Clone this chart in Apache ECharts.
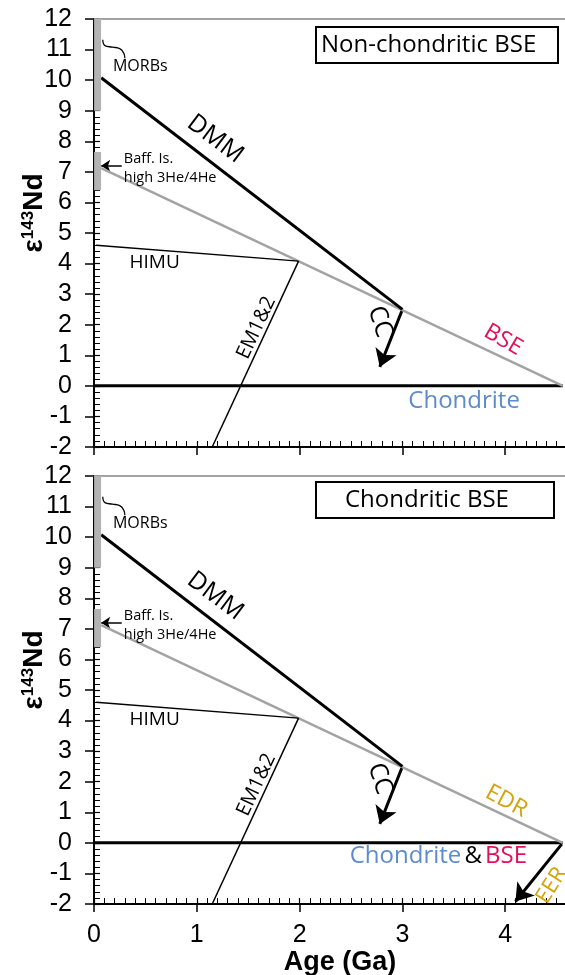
<!DOCTYPE html>
<html>
<head>
<meta charset="utf-8">
<script src="https://cdn.jsdelivr.net/npm/echarts@6/dist/echarts.min.js"></script>
<style>
html,body{margin:0;padding:0;background:#fff;}
#chart{width:565px;height:975px;}
</style>
</head>
<body>
<div id="chart"></div>
<script>
// ---- data (Age in Ga, epsilon 143Nd) ----
const xTickValues = [0, 1, 2, 3, 4];
const yTickValues = [-2, -1, 0, 1, 2, 3, 4, 5, 6, 7, 8, 9, 10, 11, 12];
const panelTitles = ['Non-chondritic BSE', 'Chondritic BSE'];
const dmmLine = [[0.07, 10.08], [3.0, 2.5]];
const bseLine = [[0.07, 7.12], [4.56, 0]];
const himuLine = [[0.02, 4.6], [1.99, 4.08]];
const emLine = [[1.99, 4.08], [1.15, -2]];
const chondriteLine = [[0, 0], [4.56, 0]];
const morbBar = [[0.035, 9], [0.035, 12]];
const baffBar = [[0.035, 6.4], [0.035, 7.65]];
const morbBrace = [[0.085, 11.32], [0.11, 11.12], [0.18, 11.08], [0.25, 11.03], [0.29, 10.88], [0.3, 10.72]];
const ccArrow = [[3.0, 2.5], [2.78, 0.62]];
const eerArrow = [[4.55, -0.04], [4.1, -1.92]];
const baffArrow = [[0.27, 7.2], [0.07, 7.2]];

const SANS = "'Open Sans', sans-serif";
const ARIAL = "'Liberation Sans', Arial, sans-serif";
const GRAY = '#a3a3a3';
const RED = '#e2105a';
const BLUE = '#5d8bcb';
const GOLD = '#d6a30a';

const chart = echarts.init(document.getElementById('chart'));

const grids = [
  {left: 94, top: 19, width: 514, height: 428, containLabel: false, outerBoundsMode: 'none'},
  {left: 94, top: 476, width: 514, height: 428, containLabel: false, outerBoundsMode: 'none'}
];

function xAxes(gi, showLabels) {
  return [
    { // main: outward major ticks, labels
      type: 'value', gridIndex: gi, position: 'bottom', min: 0, max: 5, interval: 1,
      axisLine: {show: true, onZero: false, lineStyle: {color: '#000', width: 2}},
      axisTick: {show: true, inside: false, length: 8, lineStyle: {color: '#000', width: 1.5}},
      axisLabel: {show: showLabels, fontFamily: ARIAL, fontSize: 25, color: '#000', margin: 19,
        formatter: v => xTickValues.includes(v) ? String(v) : ''},
      splitLine: {show: false},
      name: showLabels ? 'Age (Ga)' : '', nameLocation: 'middle', nameGap: 45,
      nameTextStyle: {fontFamily: ARIAL, fontSize: 27, fontWeight: 'bold', color: '#000', padding: [0, 22, 0, 0]}
    },
    { // inner: inside ticks + minor ticks
      type: 'value', gridIndex: gi, position: 'bottom', min: 0, max: 5, interval: 1,
      axisLine: {show: false, onZero: false},
      axisTick: {show: true, inside: true, length: 6, lineStyle: {color: '#000', width: 1.2}},
      minorTick: {show: true, splitNumber: 10, length: 6, lineStyle: {color: '#000', width: 1}},
      axisLabel: {show: false}, splitLine: {show: false}
    },
    { // top border
      type: 'value', gridIndex: gi, position: 'top', min: 0, max: 5,
      axisLine: {show: true, onZero: false, lineStyle: {color: GRAY, width: 2}},
      axisTick: {show: false}, axisLabel: {show: false}, splitLine: {show: false}
    }
  ];
}

function yAxes(gi) {
  return [
    {
      type: 'value', gridIndex: gi, position: 'left', min: -2, max: 12, interval: 1,
      axisLine: {show: true, onZero: false, lineStyle: {color: '#000', width: 2}},
      axisTick: {show: true, inside: false, length: 9, lineStyle: {color: '#000', width: 1.5}},
      axisLabel: {fontFamily: ARIAL, fontSize: 25, color: '#000', margin: 22,
        formatter: v => yTickValues.includes(v) ? String(v) : ''},
      splitLine: {show: false},
      name: '{e|ε}{s|143}{n|Nd}', nameLocation: 'middle', nameRotate: 90, nameGap: 46,
      nameMoveOverlap: false,
      nameTextStyle: {
        padding: [0, 0, 0, 40],
        rich: {
          e: {fontFamily: ARIAL, fontSize: 28, fontWeight: 'bold', color: '#000'},
          s: {fontFamily: ARIAL, fontSize: 17, fontWeight: 'bold', color: '#000', verticalAlign: 'top'},
          n: {fontFamily: ARIAL, fontSize: 28, fontWeight: 'bold', color: '#000'}
        }
      }
    },
    {
      type: 'value', gridIndex: gi, position: 'left', min: -2, max: 12, interval: 1,
      axisLine: {show: false, onZero: false},
      axisTick: {show: true, inside: true, length: 6, lineStyle: {color: '#000', width: 1.2}},
      minorTick: {show: true, splitNumber: 5, length: 6, lineStyle: {color: '#000', width: 1}},
      axisLabel: {show: false}, splitLine: {show: false}
    }
  ];
}

function lineSeries(xi, yi, data, color, width, extra) {
  return Object.assign({
    type: 'line', xAxisIndex: xi, yAxisIndex: yi, data: data,
    symbol: 'none', showSymbol: false, silent: true, animation: false,
    lineStyle: {color: color, width: width, cap: 'butt'}
  }, extra || {});
}

function arrowSeries(xi, yi, pts, width, size) {
  return {
    type: 'lines', coordinateSystem: 'cartesian2d', xAxisIndex: xi, yAxisIndex: yi,
    silent: true, animation: false, symbol: ['none', 'arrow'], symbolSize: size,
    lineStyle: {color: '#000', width: width, opacity: 1, curveness: 0},
    data: [{coords: pts}]
  };
}

function textSeries(xi, yi, items) {
  return {
    type: 'scatter', xAxisIndex: xi, yAxisIndex: yi, symbolSize: 0, silent: true, animation: false, z: 5,
    itemStyle: {opacity: 1},
    data: items.map(it => ({
      value: it.at,
      label: Object.assign({show: true, position: 'inside', formatter: it.text, opacity: 1,
        fontFamily: SANS, color: '#000'}, it.style)
    }))
  };
}

function panelSeries(gi) {
  const xi = gi * 3, yi = gi * 2;
  const s = [
    lineSeries(xi, yi, chondriteLine, '#000', 3),
    lineSeries(xi, yi, bseLine, GRAY, 2.5),
    lineSeries(xi, yi, dmmLine, '#000', 3),
    lineSeries(xi, yi, himuLine, '#000', 1.5),
    lineSeries(xi, yi, emLine, '#000', 1.5),
    lineSeries(xi, yi, morbBar, '#b3b3b3', 7, {z: 4}),
    lineSeries(xi, yi, baffBar, '#b3b3b3', 7, {z: 4}),
    lineSeries(xi, yi, morbBrace, '#000', 1.3, {smooth: true}),
    arrowSeries(xi, yi, ccArrow, 3, [13, 17]),
    arrowSeries(xi, yi, baffArrow, 1.5, [7, 9])
  ];
  const common = [
    {at: [0.45, 10.46], text: 'MORBs', style: {fontSize: 16}},
    {at: [0.29, 7.1], text: 'Baff. Is.\nhigh 3He/4He', style: {fontSize: 14.5, lineHeight: 19, position: 'right', distance: 0}},
    {at: [1.18, 8.07], text: 'DMM', style: {fontSize: 25, rotate: -37}},
    {at: [0.59, 4.03], text: 'HIMU', style: {fontSize: 19}},
    {at: [1.58, 1.9], text: 'EM1&2', style: {fontSize: 20, rotate: 65}},
    {at: [2.78, 2.1], text: 'CC', style: {fontSize: 25, rotate: -72}}
  ];
  if (gi === 0) {
    common.push({at: [3.98, 1.5], text: 'BSE', style: {fontSize: 23, rotate: -30, color: RED}});
    common.push({at: [3.6, -0.5], text: 'Chondrite', style: {fontSize: 24, color: BLUE}});
  } else {
    s.push(arrowSeries(xi, yi, eerArrow, 3, [13, 17]));
    common.push({at: [4.01, 1.36], text: 'EDR', style: {fontSize: 23, rotate: -28, color: GOLD}});
    common.push({at: [4.45, -1.4], text: 'EER', style: {fontSize: 22, rotate: 58, color: GOLD}});
    common.push({at: [3.35, -0.43], text: '{b|Chondrite} {k|&} {r|BSE}', style: {
      rich: {
        b: {fontFamily: SANS, fontSize: 24, color: BLUE},
        k: {fontFamily: SANS, fontSize: 24, color: '#000'},
        r: {fontFamily: SANS, fontSize: 24, color: RED}
      }}});
  }
  s.push(textSeries(xi, yi, common));
  return s;
}

const option = {
  animation: false,
  backgroundColor: '#fff',
  title: [
    {text: panelTitles[0], left: 316, top: 27, borderColor: '#000', borderWidth: 2, padding: [4, 22, 4, 5],
      textStyle: {fontFamily: SANS, fontSize: 24, fontWeight: 'normal', color: '#000', lineHeight: 28}},
    {text: panelTitles[1], left: 316, top: 482, borderColor: '#000', borderWidth: 2, padding: [4, 45, 4, 29],
      textStyle: {fontFamily: SANS, fontSize: 24, fontWeight: 'normal', color: '#000', lineHeight: 28}}
  ],
  grid: grids,
  xAxis: xAxes(0, false).concat(xAxes(1, true)),
  yAxis: yAxes(0).concat(yAxes(1)),
  series: panelSeries(0).concat(panelSeries(1))
};
chart.setOption(option);
</script>
</body>
</html>
